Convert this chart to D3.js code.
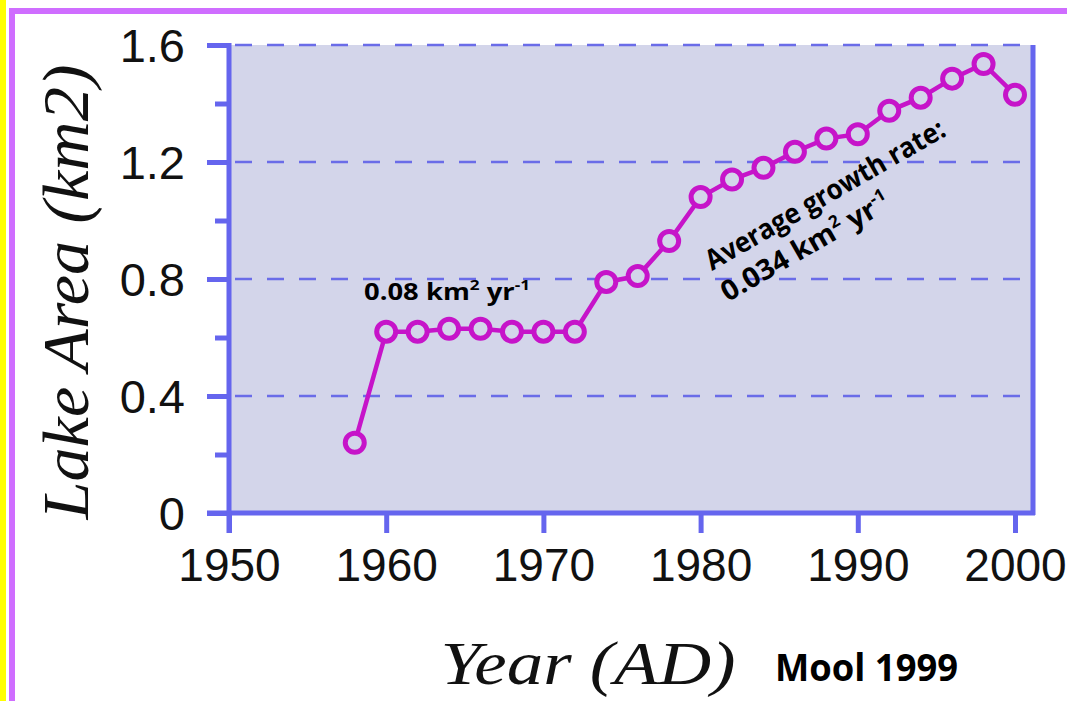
<!DOCTYPE html>
<html>
<head>
<meta charset="utf-8">
<script src="https://cdn.jsdelivr.net/npm/d3@7"></script>
<style>
  html, body { margin: 0; padding: 0; background: #ffffff; }
  svg { display: block; }
</style>
</head>
<body>
<svg id="chart" width="1067" height="701"></svg>
<script>
// ---- data ----
const years = [1958, 1960, 1962, 1964, 1966, 1968, 1970, 1972, 1974, 1976, 1978,
               1980, 1982, 1984, 1986, 1988, 1990, 1992, 1994, 1996, 1998, 2000];
const area  = [0.24, 0.62, 0.62, 0.63, 0.63, 0.62, 0.62, 0.62, 0.79, 0.81, 0.93,
               1.08, 1.14, 1.18, 1.235, 1.28, 1.295, 1.375, 1.42, 1.485, 1.535, 1.43];
const xTicks = [1950, 1960, 1970, 1980, 1990, 2000];
const yTicksMajor = [0, 0.4, 0.8, 1.2, 1.6];
const yTicksMinor = [0.2, 0.6, 1.0, 1.4];
const yTickLabels = ["0", "0.4", "0.8", "1.2", "1.6"];
const gridValues = [0.4, 0.8, 1.2, 1.6];

const svg = d3.select("#chart");

// frame decorations
svg.append("rect").attr("x", 0).attr("y", 0).attr("width", 6).attr("height", 701).attr("fill", "#ffff00");
svg.append("rect").attr("x", 9).attr("y", 8).attr("width", 1058).attr("height", 6).attr("fill", "#cf6dff");
svg.append("rect").attr("x", 9).attr("y", 8).attr("width", 6).attr("height", 693).attr("fill", "#cf6dff");

const L = 229, R = 1033, T = 45, B = 513;
const x = d3.scaleLinear().domain([1950, 2000]).range([L, 1015]);
const y = d3.scaleLinear().domain([0, 1.6]).range([B, T]);

const axisColor = "#6565ee";

// plot background
svg.append("rect").attr("x", L).attr("y", T).attr("width", R - L).attr("height", B - T)
  .attr("fill", "#d3d5ea");

// grid
svg.append("g").selectAll("line").data(gridValues).join("line")
  .attr("x1", L).attr("x2", R)
  .attr("y1", d => y(d)).attr("y2", d => y(d))
  .attr("stroke", "#6a6ce8").attr("stroke-width", 2.5)
  .attr("stroke-dasharray", "17,15").attr("stroke-dashoffset", -6);

// right border
svg.append("line").attr("x1", R).attr("x2", R).attr("y1", T).attr("y2", B + 2)
  .attr("stroke", axisColor).attr("stroke-width", 5);

// x axis
const xAxis = d3.axisBottom(x).tickValues(xTicks).tickFormat(d3.format("d"))
  .tickSize(20).tickSizeOuter(0).tickPadding(15);
const gx = svg.append("g").attr("transform", `translate(0,${B})`).call(xAxis);
gx.select(".domain").remove();
gx.selectAll(".tick line").attr("stroke", axisColor).attr("stroke-width", 5);
gx.selectAll(".tick text").attr("fill", "#111").attr("font-family", "Liberation Sans, Arial, sans-serif")
  .attr("font-size", 46);
svg.append("line").attr("x1", L - 22).attr("x2", R + 2).attr("y1", B).attr("y2", B)
  .attr("stroke", axisColor).attr("stroke-width", 5);

// y axis
const yAxis = d3.axisLeft(y).tickValues(yTicksMajor).tickFormat((d, i) => yTickLabels[i])
  .tickSize(22).tickSizeOuter(0).tickPadding(22);
const gy = svg.append("g").attr("transform", `translate(${L},0)`).call(yAxis);
gy.select(".domain").remove();
gy.selectAll(".tick line").attr("stroke", axisColor).attr("stroke-width", 5);
gy.selectAll(".tick text").attr("fill", "#111").attr("font-family", "Liberation Sans, Arial, sans-serif")
  .attr("font-size", 47).attr("dy", "0.36em");
const yAxisMinor = d3.axisLeft(y).tickValues(yTicksMinor).tickFormat("").tickSize(14).tickSizeOuter(0);
const gym = svg.append("g").attr("transform", `translate(${L},0)`).call(yAxisMinor);
gym.select(".domain").remove();
gym.selectAll(".tick line").attr("stroke", axisColor).attr("stroke-width", 5);
svg.append("line").attr("x1", L).attr("x2", L).attr("y1", T - 2).attr("y2", B + 20)
  .attr("stroke", axisColor).attr("stroke-width", 5);

// series
const pts = years.map((yr, i) => [yr, area[i]]);
const lineGen = d3.line().x(d => x(d[0])).y(d => y(d[1]));
svg.append("path").datum(pts).attr("d", lineGen)
  .attr("fill", "none").attr("stroke", "#c614c9").attr("stroke-width", 4.5);
svg.append("g").selectAll("circle").data(pts).join("circle")
  .attr("cx", d => x(d[0])).attr("cy", d => y(d[1])).attr("r", 9.5)
  .attr("fill", "#d3d5ea").attr("stroke", "#c614c9").attr("stroke-width", 5);

// annotations
const annFont = "'Open Sans', Lato, sans-serif";
const a1 = svg.append("text").attr("x", 364).attr("y", 300)
  .attr("font-family", annFont).attr("font-weight", 700).attr("font-size", 24).attr("fill", "#000")
  .attr("textLength", 166).attr("lengthAdjust", "spacingAndGlyphs");
a1.append("tspan").text("0.08 km");
a1.append("tspan").text("2").attr("font-size", 15).attr("dy", -10);
a1.append("tspan").text(" yr").attr("dy", 10);
a1.append("tspan").text("-1").attr("font-size", 15).attr("dy", -10);

const g2 = svg.append("g").attr("transform", "translate(712,271) rotate(-30)");
g2.append("text").attr("x", 0).attr("y", 0)
  .attr("font-family", annFont).attr("font-weight", 700).attr("font-size", 28).attr("fill", "#000")
  .attr("textLength", 272).attr("lengthAdjust", "spacingAndGlyphs")
  .text("Average growth rate:");
const a2 = g2.append("text").attr("x", -2).attr("y", 35)
  .attr("font-family", annFont).attr("font-weight", 700).attr("font-size", 28).attr("fill", "#000")
  .attr("textLength", 190).attr("lengthAdjust", "spacingAndGlyphs");
a2.append("tspan").text("0.034 km");
a2.append("tspan").text("2").attr("font-size", 17).attr("dy", -11);
a2.append("tspan").text(" yr").attr("dy", 11);
a2.append("tspan").text("-1").attr("font-size", 17).attr("dy", -11);

// axis titles
svg.append("text")
  .attr("transform", "translate(88,292) rotate(-90)")
  .attr("text-anchor", "middle")
  .attr("font-family", "'Liberation Serif', 'DejaVu Serif', serif").attr("font-style", "italic")
  .attr("font-size", 66).attr("fill", "#111")
  .attr("textLength", 455).attr("lengthAdjust", "spacingAndGlyphs")
  .text("Lake Area (km2)");

svg.append("text").attr("x", 588).attr("y", 684)
  .attr("text-anchor", "middle")
  .attr("font-family", "'Liberation Serif', 'DejaVu Serif', serif").attr("font-style", "italic")
  .attr("font-size", 62).attr("fill", "#111")
  .attr("textLength", 295).attr("lengthAdjust", "spacingAndGlyphs")
  .text("Year (AD)");

svg.append("text").attr("x", 775).attr("y", 681)
  .attr("font-family", annFont).attr("font-weight", 700).attr("font-size", 37).attr("fill", "#000")
  .attr("textLength", 183).attr("lengthAdjust", "spacingAndGlyphs")
  .text("Mool 1999");
</script>
</body>
</html>
